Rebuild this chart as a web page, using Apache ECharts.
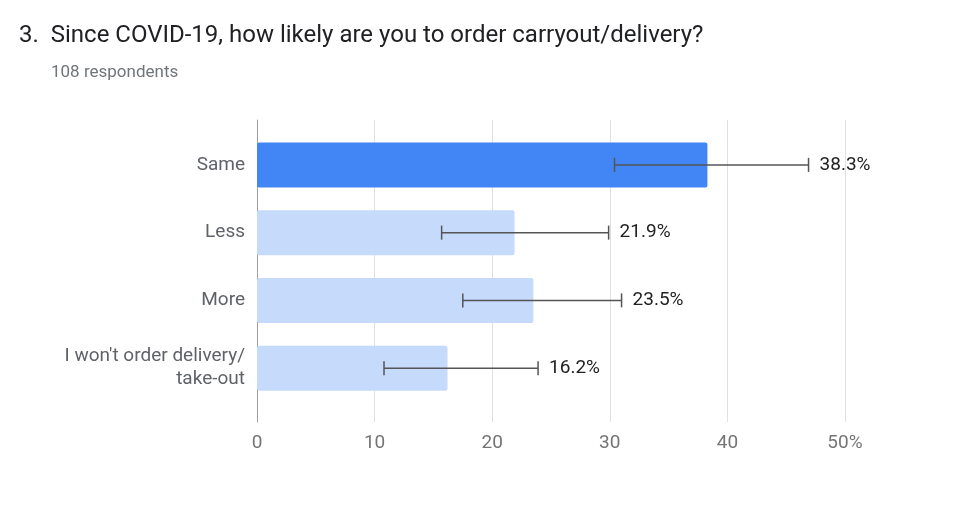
<!DOCTYPE html>
<html>
<head>
<meta charset="utf-8">
<script src="https://cdn.jsdelivr.net/npm/echarts@6/dist/echarts.min.js"></script>
<style>
	html, body { margin: 0; padding: 0; background: #fff; }
	#chart { width: 974px; height: 514px; }
</style>
</head>
<body>
<div id="chart"></div>
<script>
// answers, top to bottom
var categories = ['Same', 'Less', 'More', "I won't order delivery/\ntake-out"];
var percents = [38.3, 21.9, 23.5, 16.2];
// error bar ends
var errLow = [30.4, 15.7, 17.5, 10.8];
var errHigh = [46.9, 29.9, 31.0, 23.9];
var xTicks = [0, 10, 20, 30, 40, 50];

var highlight = 0;
var font = 'Roboto, "Noto Sans", sans-serif';

var barData = percents.map(function(v, i) {
	return {
		value: v,
		itemStyle: { color: i === highlight ? '#4285f4' : '#c6dafc' }
	};
});
var errData = percents.map(function(v, i) {
	return [i, errLow[i], errHigh[i], v];
});

var myChart = echarts.init(document.getElementById('chart'));
var option = {
	animation: false,
	textStyle: { fontFamily: font },
	title: [{
		text: '3.  Since COVID-19, how likely are you to order carryout/delivery?',
		left: 14,
		top: 19,
		textStyle: { fontSize: 24, fontWeight: 'normal', color: '#202124', fontFamily: font }
	}, {
		text: '108 respondents',
		left: 46,
		top: 59,
		textStyle: { fontSize: 17, fontWeight: 'normal', color: '#70757a', fontFamily: font }
	}],
	grid: [
		// frame: gridlines + x labels
		{ left: 257, right: 129, top: 120, bottom: 92 },
		// bars
		{ left: 257, right: 129, top: 131, height: 271 }
	],
	xAxis: [{
		gridIndex: 0,
		type: 'value',
		min: 0,
		max: 50,
		interval: 10,
		axisLine: { show: false },
		axisTick: { show: false },
		splitLine: { lineStyle: { color: '#e0e0e0', width: 1 } },
		axisLabel: {
			color: '#757575',
			fontSize: 19,
			margin: 12,
			fontFamily: font,
			formatter: function(v) { return v === xTicks[xTicks.length - 1] ? v + '%' : String(v); }
		}
	}, {
		gridIndex: 1,
		type: 'value',
		min: 0,
		max: 50,
		show: false
	}],
	yAxis: [{
		gridIndex: 0,
		type: 'value',
		axisLine: { show: true, lineStyle: { color: '#9e9e9e', width: 1 } },
		axisTick: { show: false },
		axisLabel: { show: false },
		splitLine: { show: false }
	}, {
		gridIndex: 1,
		type: 'category',
		inverse: true,
		data: categories,
		axisLine: { show: false },
		axisTick: { show: false },
		axisLabel: {
			color: '#5f6368',
			fontSize: 19,
			margin: 12,
			lineHeight: 23,
			align: 'right',
			fontFamily: font
		}
	}],
	series: [{
		type: 'bar',
		xAxisIndex: 1,
		yAxisIndex: 1,
		barWidth: 45,
		data: barData,
		itemStyle: { borderRadius: 2 }
	}, {
		type: 'custom',
		xAxisIndex: 1,
		yAxisIndex: 1,
		data: errData,
		z: 5,
		renderItem: function(params, api) {
			var cat = api.value(0);
			var lo = api.coord([api.value(1), cat]);
			var hi = api.coord([api.value(2), cat]);
			var cap = 7;
			var st = { stroke: '#555', lineWidth: 1.5 };
			return {
				type: 'group',
				children: [
					{ type: 'line', shape: { x1: lo[0], y1: lo[1], x2: hi[0], y2: hi[1] }, style: st },
					{ type: 'line', shape: { x1: lo[0], y1: lo[1] - cap, x2: lo[0], y2: lo[1] + cap }, style: st },
					{ type: 'line', shape: { x1: hi[0], y1: hi[1] - cap, x2: hi[0], y2: hi[1] + cap }, style: st },
					{
						type: 'text',
						style: {
							x: hi[0] + 11,
							y: hi[1],
							text: api.value(3).toFixed(1) + '%',
							fill: '#222',
							font: '19px ' + font,
							verticalAlign: 'middle'
						}
					}
				]
			};
		}
	}]
};
myChart.setOption(option);
</script>
</body>
</html>
